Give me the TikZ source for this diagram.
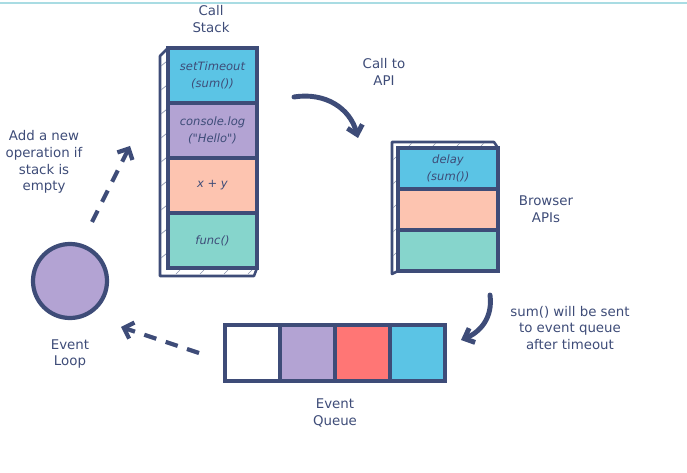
\documentclass[tikz,border=0pt]{standalone}
\usepackage{fontspec}
\setmainfont{DejaVu Sans}
\usepackage{tikz}
\usetikzlibrary{arrows.meta, positioning}
\definecolor{navy}{HTML}{3E4C78}
\definecolor{cblue}{HTML}{5BC4E5}
\definecolor{cpurple}{HTML}{B3A3D3}
\definecolor{cpeach}{HTML}{FDC4B0}
\definecolor{cteal}{HTML}{86D5CC}
\definecolor{cred}{HTML}{FF7675}
\definecolor{topline}{HTML}{A9DCE3}
\tikzset{
  cell/.style={
    rectangle, draw=navy, line width=2.4pt, outer sep=0pt, inner sep=0pt,
    align=center, text=navy, font=\fontsize{8.2}{12.5}\selectfont\itshape
  },
  stackcell/.style={cell, minimum width=2.225cm, minimum height=1.375cm},
  apicell/.style={cell, minimum width=2.5cm, minimum height=1.025cm},
  queuecell/.style={cell, minimum width=1.375cm, minimum height=1.4cm},
  lbl/.style={align=center, text=navy, font=\fontsize{9.5}{12}\selectfont},
  side/.style={draw=navy, line width=1.8pt, fill=white, line join=round},
  hatch/.style={draw=navy!60, line width=0.5pt},
  bigarrow/.style={-{Straight Barb[length=6pt,width=11pt]}, line width=3.5pt,
    draw=navy, line cap=round},
  dasharrow/.style={-{Straight Barb[length=6pt,width=12pt]}, line width=3pt,
    draw=navy, dash pattern=on 9pt off 7pt}
}

\begin{document}
\begin{tikzpicture}[x=0.025cm, y=-0.025cm]
  \useasboundingbox (0,0) rectangle (687,473);
  \draw[topline, line width=0.8pt] (0,3) -- (687,3);

  % call stack
  \draw[side] (160,56) -- (168,48) -- (168,268) -- (257,268) -- (254,276)
    -- (160,276) -- cycle;
  \foreach \y in {66,90,...,258}
    \draw[hatch] (161,\y) -- (166,\y-4);
  \foreach \x in {176,200,...,248}
    \draw[hatch] (\x,274) -- (\x+4,270);
  \node[stackcell, fill=cblue] (settime) at (212.5,75.5) {setTimeout\\(sum())};
  \node[stackcell, fill=cpurple, below=0pt of settime] (conlog) {console.log\\(\textquotedbl Hello\textquotedbl)};
  \node[stackcell, fill=cpeach, below=0pt of conlog] (xy) {x + y};
  \node[stackcell, fill=cteal, below=0pt of xy] (func) {func()};
  \node[lbl] (stacklbl) at (211,19) {Call\\Stack};

  % browser apis
  \draw[side] (392,274) -- (392,142) -- (494,142) -- (498,148) -- (398,148)
    -- (398,271) -- cycle;
  \foreach \y in {160,184,...,256}
    \draw[hatch] (393,\y) -- (397,\y-4);
  \foreach \x in {408,432,...,480}
    \draw[hatch] (\x,147) -- (\x+4,143);
  \node[apicell, fill=cblue] (delay) at (448,168.5) {delay\\(sum())};
  \node[apicell, fill=cpeach, below=0pt of delay] (api2) {};
  \node[apicell, fill=cteal, below=0pt of api2] (api3) {};
  \node[lbl] (apilbl) at (546,209) {Browser\\APIs};

  % event queue
  \node[queuecell, fill=white] (q1) at (252.5,353) {};
  \node[queuecell, fill=cpurple, right=0pt of q1] (q2) {};
  \node[queuecell, fill=cred, right=0pt of q2] (q3) {};
  \node[queuecell, fill=cblue, right=0pt of q3] (q4) {};
  \node[lbl] (queuelbl) at (335,413) {Event\\Queue};

  % event loop
  \node[circle, draw=navy, line width=3pt, fill=cpurple,
    minimum size=1.85cm, inner sep=0pt] (loop) at (70,281) {};
  \node[lbl] (looplbl) at (70,354) {Event\\Loop};
  \node[lbl] (addlbl) at (44,162) {Add a new\\operation if\\stack is\\empty};

  % connectors
  \node[lbl] (calllbl) at (384,72) {Call to\\API};
  \coordinate (callstart) at (294,97);
  \coordinate (callend) at (358,138);
  \draw[bigarrow] (callstart) .. controls (325,92) and (350,108) .. (callend);

  \node[lbl] (sumlbl) at (570,328) {sum() will be sent\\to event queue\\after timeout};
  \coordinate (sumstart) at (490,295);
  \coordinate (sumend) at (461,340);
  \draw[bigarrow] (sumstart) .. controls (493,318) and (480,332) .. (sumend);

  \coordinate (qstart) at (199,353);
  \coordinate (qend) at (121,327);
  \draw[dasharrow] (qstart) -- (qend);

  \coordinate (lstart) at (92,222);
  \coordinate (lend) at (130,146);
  \draw[dasharrow] (lstart) -- (lend);
\end{tikzpicture}
\end{document}
